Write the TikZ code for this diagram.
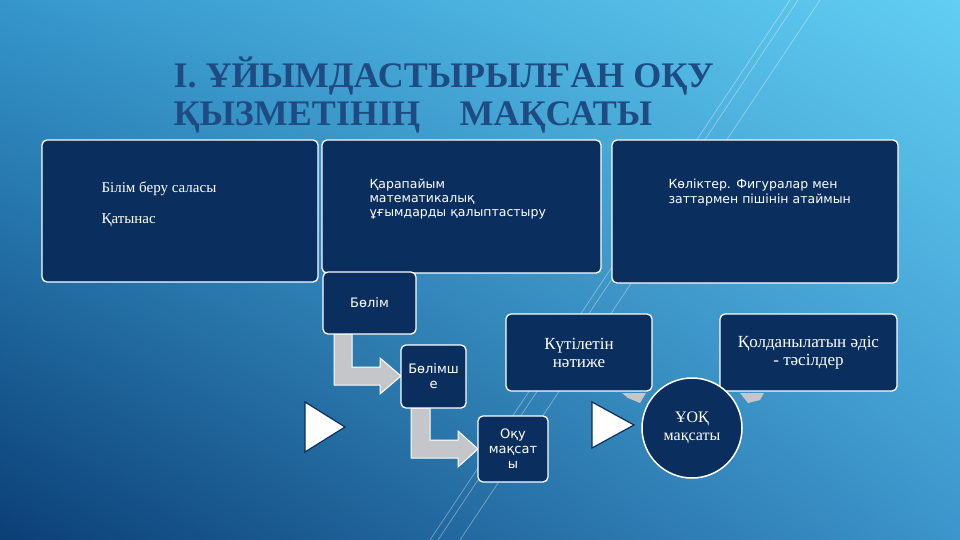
\documentclass[tikz,border=0pt]{standalone}
\usepackage{fontspec}
\setmainfont{Liberation Serif}
\newfontfamily\dv{DejaVu Sans}
\usetikzlibrary{shapes.geometric,shadings}
\definecolor{boxc}{HTML}{0A2F5E}
\definecolor{titc}{HTML}{1E4C82}
\definecolor{arrc}{HTML}{C4C6CA}
\definecolor{bgul}{HTML}{3596CC}
\definecolor{bgur}{HTML}{62CEF2}
\definecolor{bgll}{HTML}{0B3F76}
\definecolor{bglr}{HTML}{3C95CC}
\tikzset{
 bx/.style={draw=white,line width=1.3pt,fill=boxc,rounded corners=5pt,text=white},
 tri/.style={fill=white,draw=boxc,line width=1.2pt,line join=miter},
 garr/.style={fill=arrc,draw=white,line width=1pt},
}
\begin{document}
\begin{tikzpicture}[x=1pt,y=-1pt]
\shade[upper left=bgul, upper right=bgur, lower left=bgll, lower right=bglr] (0,0) rectangle (960,540);
\useasboundingbox (0,0) rectangle (960,540);
\foreach \d in {0,8,30}{\draw[white,opacity=0.35,line width=0.8pt] (430+\d,540) -- (790+\d,0);}
% title
\node[anchor=base west,text=titc,font=\bfseries\fontsize{36}{38}\selectfont] (t1) at (170,88) {I. ҰЙЫМДАСТЫРЫЛҒАН ОҚУ};
\node[anchor=base west,text=titc,font=\bfseries\fontsize{36}{38}\selectfont] (t2) at (170,126) {ҚЫЗМЕТІНІҢ\hspace{1.1em}МАҚСАТЫ};
% big boxes
\draw[bx] (42,140) rectangle (318,282);
\node[anchor=base west,text=white,font=\fontsize{15}{16}\selectfont] (a1) at (98,193) {Білім беру саласы};
\node[anchor=base west,text=white,font=\fontsize{15}{16}\selectfont] (a2) at (98,223) {Қатынас};
\draw[bx] (322,140) rectangle (601,273);
\node[anchor=north west,text=white,align=left,font=\dv\fontsize{12.5}{14}\selectfont] (b1) at (366,175) {Қарапайым\\математикалық\\ұғымдарды қалыптастыру};
\draw[bx] (612,140) rectangle (898,283);
\node[anchor=north west,text=white,align=left,font=\dv\fontsize{12.5}{15}\selectfont] (c1) at (665,175) {Көліктер. Фигуралар мен\\заттармен пішінін атаймын};
% gray bent arrows
\draw[garr] (334,334) -- (352,334) -- (352,367) -- (380,367) -- (380,358) -- (401,376) -- (380,394) -- (380,385) -- (334,385) -- cycle;
\draw[garr] (411,408) -- (430,408) -- (430,440) -- (458,440) -- (458,431) -- (478,449) -- (458,467) -- (458,458) -- (411,458) -- cycle;
\fill[arrc] (622,393) -- (646,393) -- (640,403) -- (628,398) -- cycle;
\fill[arrc] (740,393) -- (764,393) -- (760,400) -- (748,403) -- cycle;
% small boxes
\node[bx,minimum width=93,minimum height=62,font=\dv\fontsize{13}{15}\selectfont] (s1) at (369.5,303) {Бөлім};
\node[bx,minimum width=65,minimum height=63,align=center,font=\dv\fontsize{13}{15}\selectfont] (s2) at (433.5,376.5) {Бөлімш\\е};
\node[bx,minimum width=70,minimum height=66,align=center,font=\dv\fontsize{13}{15}\selectfont] (s3) at (513,449) {Оқу\\мақсат\\ы};
\node[bx,minimum width=146,minimum height=77,align=center,font=\fontsize{17}{18}\selectfont] (k1) at (579,352.5) {Күтілетін\\нәтиже};
\node[bx,minimum width=177,minimum height=77,align=center,font=\fontsize{17}{18}\selectfont] (k2) at (808.5,352.5) {Қолданылатын әдіс\\- тәсілдер};
\node[circle,draw=white,line width=1.5pt,fill=boxc,text=white,minimum size=100,align=center,font=\fontsize{16}{18}\selectfont] (u) at (692,428) {ҰОҚ\\мақсаты};
% triangles
\draw[tri] (305,402) -- (345,427) -- (305,452) -- cycle;
\draw[tri] (592,402) -- (634,425) -- (592,448) -- cycle;
\end{tikzpicture}
\end{document}
